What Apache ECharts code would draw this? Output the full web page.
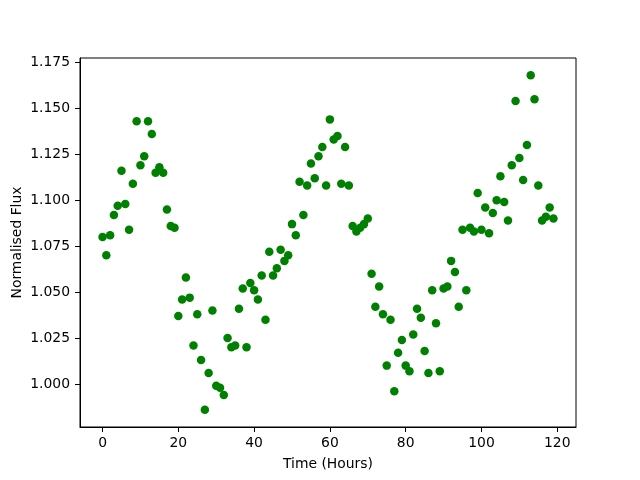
<!DOCTYPE html>
<html>
<head>
<meta charset="utf-8">
<script src="https://cdn.jsdelivr.net/npm/echarts@6/dist/echarts.min.js"></script>
<style>html,body{margin:0;padding:0;background:#fff}#c{width:640px;height:480px}</style>
</head>
<body>
<div id="c"></div>
<script>
const hours = Array.from({length: 120}, (_, i) => i);
const flux = [
1.080,1.070,1.081,1.092,1.097,1.116,1.098,1.084,1.109,1.143,
1.119,1.124,1.143,1.136,1.115,1.118,1.115,1.095,1.086,1.085,
1.037,1.046,1.058,1.047,1.021,1.038,1.013,0.986,1.006,1.040,
0.999,0.998,0.994,1.025,1.020,1.021,1.041,1.052,1.020,1.055,
1.051,1.046,1.059,1.035,1.072,1.059,1.063,1.073,1.067,1.070,
1.087,1.081,1.110,1.092,1.108,1.120,1.112,1.124,1.129,1.108,
1.144,1.133,1.135,1.109,1.129,1.108,1.086,1.083,1.085,1.087,
1.090,1.060,1.042,1.053,1.038,1.010,1.035,0.996,1.017,1.024,
1.010,1.007,1.027,1.041,1.036,1.018,1.006,1.051,1.033,1.007,
1.052,1.053,1.067,1.061,1.042,1.084,1.051,1.085,1.083,1.104,
1.084,1.096,1.082,1.093,1.100,1.113,1.099,1.089,1.119,1.154,
1.123,1.111,1.130,1.168,1.155,1.108,1.089,1.091,1.096,1.090
];
const xTicks = [0, 20, 40, 60, 80, 100, 120];
const yTicks = [1.000, 1.025, 1.050, 1.075, 1.100, 1.125, 1.150, 1.175];

const font = 'DejaVu Sans';
const chart = echarts.init(document.getElementById('c'), null, {renderer: 'canvas'});
chart.setOption({
  animation: false,
  backgroundColor: '#fff',
  grid: {left: 80, right: 64, top: 58, bottom: 53, show: true, borderColor: '#000', borderWidth: 1, backgroundColor: 'transparent'},
  xAxis: {
    type: 'value', min: -5.95, max: 124.95,
    name: 'Time (Hours)', nameLocation: 'middle', nameGap: 30, nameMoveOverlap: false,
    nameTextStyle: {fontFamily: font, fontSize: 13.9, color: '#000'},
    axisLine: {show: true, onZero: false, lineStyle: {color: '#000', width: 1}},
    axisTick: {show: true, inside: false, length: 5, customValues: xTicks, lineStyle: {color: '#000'}},
    axisLabel: {customValues: xTicks, margin: 9, fontFamily: font, fontSize: 13.9, color: '#000'},
    splitLine: {show: false}
  },
  yAxis: {
    type: 'value', min: 0.9766, max: 1.1774,
    name: 'Normalised Flux', nameLocation: 'middle', nameGap: 56, nameMoveOverlap: false,
    nameTextStyle: {fontFamily: font, fontSize: 13.9, color: '#000'},
    axisLine: {show: true, onZero: false, lineStyle: {color: '#000', width: 1}},
    axisTick: {show: true, inside: false, length: 5, customValues: yTicks, lineStyle: {color: '#000'}},
    axisLabel: {customValues: yTicks, margin: 10, fontFamily: font, fontSize: 13.9, color: '#000',
      formatter: v => v.toFixed(3)},
    splitLine: {show: false}
  },
  series: [{
    type: 'scatter',
    data: hours.map((h, i) => [h, flux[i]]),
    symbol: 'circle', symbolSize: 8.5,
    itemStyle: {color: '#008000', opacity: 1},
    clip: false
  }]
});
</script>
</body>
</html>
